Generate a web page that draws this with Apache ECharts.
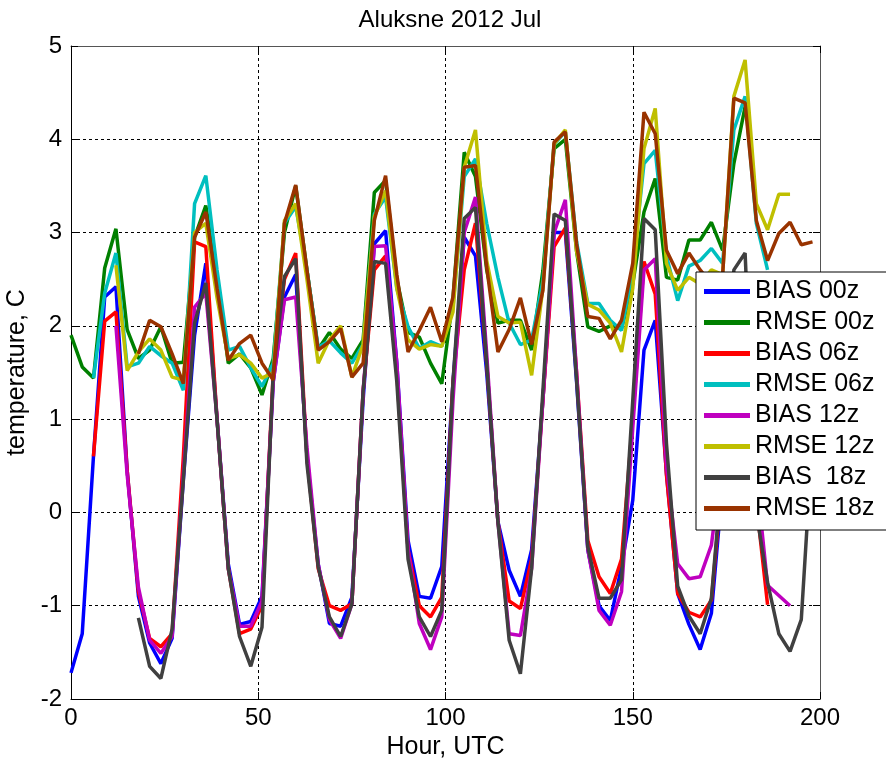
<!DOCTYPE html>
<html>
<head>
<meta charset="utf-8">
<script src="https://cdn.jsdelivr.net/npm/echarts@6/dist/echarts.min.js"></script>
<style>html,body{margin:0;padding:0;background:#fff;}#c{width:886px;height:762px;}</style>
</head>
<body>
<div id="c"></div>
<script>
// Forecast lead hours (3-hourly), each series spans 180 h from its start hour
const startBias00 = 0, startRmse00 = 0, startBias06 = 6, startRmse06 = 6;
const startBias12 = 12, startRmse12 = 12, startBias18 = 18, startRmse18 = 18;
const stepHours = 3;

const bias00 = [
 -1.72,-1.30,0.60,2.31,2.42,0.45,-0.90,-1.40,
 -1.62,-1.35,0.35,1.90,2.67,1.00,-0.55,-1.20,
 -1.17,-0.90,1.40,2.31,2.55,0.60,-0.55,-1.19,
 -1.22,-0.91,1.20,2.88,3.02,1.60,-0.30,-0.90,
 -0.92,-0.58,1.40,2.95,2.75,1.50,-0.10,-0.62,
 -0.90,-0.40,1.20,3.00,3.00,1.40,-0.40,-1.00,
 -1.16,-0.58,0.13,1.74,2.06,0.42,-0.87,-1.20,
 -1.47,-1.08,0.30,1.80,2.20];
const rmse00 = [
 1.90,1.56,1.44,2.62,3.04,1.96,1.65,1.74,
 1.99,1.60,1.61,2.95,3.29,2.50,1.60,1.70,
 1.55,1.26,1.65,3.00,3.50,2.60,1.75,1.93,
 1.75,1.65,1.85,3.43,3.56,2.50,1.93,1.88,
 1.60,1.38,2.30,3.86,3.60,2.60,2.03,2.06,
 2.06,1.74,2.59,3.90,4.00,2.80,1.99,1.94,
 2.00,1.97,2.45,3.22,3.58,2.52,2.49,2.92,
 2.92,3.11,2.81,3.74,4.35];
const bias06 = [
 0.60,2.05,2.15,0.45,-0.85,-1.35,-1.44,-1.30,
 0.60,2.90,2.85,1.00,-0.60,-1.30,-1.25,-1.00,
 1.50,2.50,2.78,0.60,-0.60,-1.00,-1.05,-0.98,
 1.30,2.60,2.75,1.50,-0.40,-1.00,-1.12,-0.91,
 1.40,2.60,3.10,1.60,-0.10,-0.95,-1.03,-0.50,
 1.20,2.85,3.05,1.50,-0.30,-0.69,-0.87,-0.50,
 1.00,2.69,2.34,0.40,-0.87,-1.07,-1.12,-0.94,
 0.40,1.80,2.00,0.10,-0.99];
const rmse06 = [
 1.44,2.35,2.78,1.56,1.60,1.78,1.68,1.60,
 1.31,3.31,3.61,2.60,1.74,1.78,1.55,1.35,
 1.60,3.10,3.28,2.60,1.77,1.84,1.71,1.60,
 1.80,3.20,3.38,2.40,1.99,1.76,1.83,1.78,
 2.20,3.60,3.79,3.10,2.52,2.03,1.80,1.85,
 2.48,3.95,4.08,2.90,2.24,2.24,2.06,1.95,
 2.60,3.74,3.88,2.75,2.27,2.64,2.70,2.83,
 2.67,4.10,4.46,3.10,2.60];
const bias12 = [
 2.00,0.40,-0.80,-1.37,-1.51,-1.33,0.40,2.20,
 2.35,1.00,-0.60,-1.22,-1.22,-0.95,1.40,2.28,
 2.31,0.70,-0.55,-1.15,-1.35,-0.98,1.30,2.85,
 2.86,1.60,-0.40,-1.19,-1.47,-1.12,1.20,3.00,
 3.38,1.70,-0.10,-1.30,-1.32,-0.60,1.20,3.00,
 3.35,1.50,-0.40,-1.05,-1.21,-0.85,0.90,2.60,
 2.72,0.50,-0.55,-0.71,-0.69,-0.35,0.60,1.80,
 2.20,0.40,-0.78,-0.89,-1.00];
const rmse12 = [
 2.65,1.52,1.72,1.86,1.74,1.45,1.42,3.00,
 3.10,2.30,1.65,1.69,1.60,1.44,1.50,3.13,
 3.31,2.50,1.60,1.85,2.00,1.45,1.80,3.17,
 3.45,2.40,1.85,1.75,1.80,1.78,2.15,3.70,
 4.10,2.70,2.10,2.03,2.04,1.47,2.40,3.95,
 4.10,2.80,2.23,2.17,2.03,1.72,2.40,3.90,
 4.33,2.67,2.38,2.52,2.45,2.60,2.55,4.46,
 4.85,3.31,3.03,3.41,3.41];
const bias18 = [
 -1.13,-1.65,-1.78,-1.25,0.35,2.03,2.46,0.99,
 -0.60,-1.33,-1.65,-1.23,1.50,2.53,2.72,0.52,
 -0.58,-1.12,-1.33,-0.98,1.30,2.69,2.67,1.40,
 -0.50,-1.12,-1.33,-1.05,1.40,3.15,3.27,1.60,
 -0.10,-1.37,-1.73,-0.60,1.30,3.20,3.13,1.42,
 -0.37,-0.92,-0.92,-0.72,1.20,3.15,3.03,0.74,
 -0.79,-1.11,-1.30,-0.92,0.50,2.60,2.78,0.00,
 -0.75,-1.30,-1.49,-1.15,0.80];
const rmse18 = [
 1.70,2.06,1.99,1.70,1.38,2.95,3.22,2.40,
 1.63,1.81,1.90,1.60,1.42,3.10,3.51,2.60,
 1.74,1.83,1.97,1.45,1.60,3.13,3.61,2.55,
 1.72,1.95,2.20,1.83,2.31,3.70,3.72,2.63,
 1.72,1.96,2.30,1.80,2.38,3.97,4.08,2.88,
 2.10,2.08,1.86,2.06,2.67,4.29,4.06,2.81,
 2.56,2.78,2.60,2.45,2.55,4.44,4.39,3.13,
 2.70,2.99,3.11,2.87,2.90];

const seriesNames = ['BIAS 00z','RMSE 00z','BIAS 06z','RMSE 06z','BIAS 12z','RMSE 12z','BIAS  18z','RMSE 18z'];
const seriesColors = ['#0000ff','#008000','#ff0000','#00bfbf','#bf00bf','#bfbf00','#404040','#993300'];
const seriesValues = [bias00, rmse00, bias06, rmse06, bias12, rmse12, bias18, rmse18];
const seriesStarts = [startBias00, startRmse00, startBias06, startRmse06, startBias12, startRmse12, startBias18, startRmse18];

const xTicks = {min: 0, max: 200, interval: 50};
const yTicks = {min: -2, max: 5, interval: 1};

const FONT = 'Liberation Sans, Arial, Helvetica, sans-serif';

const series = seriesNames.map((name, k) => ({
  name: name,
  type: 'line',
  showSymbol: false,
  symbol: 'none',
  color: seriesColors[k],
  lineStyle: {width: 3.5, color: seriesColors[k]},
  data: seriesValues[k].map((v, i) => [seriesStarts[k] + i * stepHours, v]),
  z: 2 + k * 0.01,
  clip: true
}));

const chart = echarts.init(document.getElementById('c'), null, {renderer: 'canvas'});
chart.setOption({
  animation: false,
  backgroundColor: '#fff',
  title: {
    text: 'Aluksne 2012 Jul', left: 445, top: 3, textAlign: 'center',
    textStyle: {fontFamily: FONT, fontSize: 24, fontWeight: 'normal', color: '#000'}
  },
  grid: {left: 71, right: 66, top: 46, bottom: 63, containLabel: false, outerBoundsMode: 'none'},
  legend: {
    orient: 'vertical', left: 696, top: 272,
    itemWidth: 46, itemHeight: 5, itemGap: 6, icon: 'rect',
    padding: [7, 60, 9, 8],
    backgroundColor: '#fff', borderColor: '#000', borderWidth: 1, borderRadius: 0,
    textStyle: {fontFamily: FONT, fontSize: 25, color: '#000'},
    data: seriesNames
  },
  xAxis: [{
    type: 'value', min: xTicks.min, max: xTicks.max, interval: xTicks.interval,
    name: 'Hour, UTC', nameLocation: 'middle', nameGap: 33,
    nameTextStyle: {fontFamily: FONT, fontSize: 25, color: '#000'},
    axisLine: {show: true, onZero: false, lineStyle: {color: '#000', width: 1}},
    axisTick: {show: true, inside: true, length: 7, lineStyle: {color: '#000'}},
    axisLabel: {fontFamily: FONT, fontSize: 24, color: '#000', margin: 7},
    splitLine: {show: true, lineStyle: {color: '#000', type: [3, 3], width: 1}}
  }, {
    type: 'value', position: 'top', min: xTicks.min, max: xTicks.max, interval: xTicks.interval,
    axisLine: {show: true, onZero: false, lineStyle: {color: '#555', width: 1}},
    axisTick: {show: true, inside: true, length: 7, lineStyle: {color: '#000'}},
    axisLabel: {show: false}, splitLine: {show: false}
  }],
  yAxis: [{
    type: 'value', min: yTicks.min, max: yTicks.max, interval: yTicks.interval,
    name: 'temperature, C', nameLocation: 'middle', nameGap: 36, nameRotate: 90,
    nameTextStyle: {fontFamily: FONT, fontSize: 25, color: '#000'},
    axisLine: {show: true, onZero: false, lineStyle: {color: '#000', width: 1}},
    axisTick: {show: true, inside: true, length: 7, lineStyle: {color: '#000'}},
    axisLabel: {fontFamily: FONT, fontSize: 24, color: '#000', margin: 9},
    splitLine: {show: true, lineStyle: {color: '#000', type: [3, 3], width: 1}}
  }, {
    type: 'value', position: 'right', min: yTicks.min, max: yTicks.max, interval: yTicks.interval,
    axisLine: {show: true, onZero: false, lineStyle: {color: '#555', width: 1}},
    axisTick: {show: true, inside: true, length: 7, lineStyle: {color: '#000'}},
    axisLabel: {show: false}, splitLine: {show: false}
  }],
  series: series
});
</script>
</body>
</html>
